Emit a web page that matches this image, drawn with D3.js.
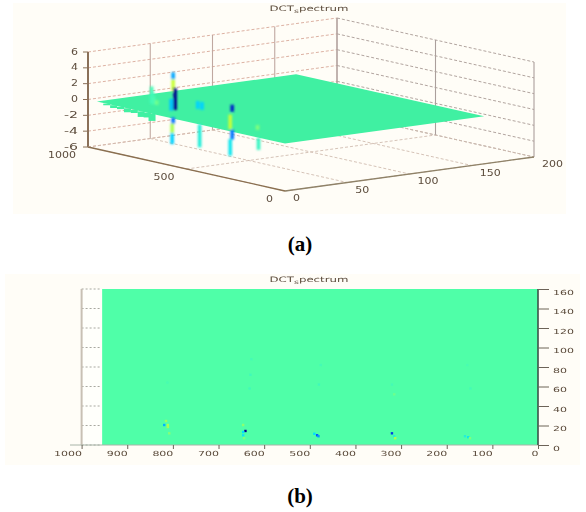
<!DOCTYPE html>
<html>
<head>
<meta charset="utf-8">
<script src="https://cdn.jsdelivr.net/npm/d3@7"></script>
<style>
html,body{margin:0;padding:0;background:#fff;}
svg{display:block;}
text{font-family:"DejaVu Sans",sans-serif;fill:#5c4c3c;}
</style>
</head>
<body>
<svg id="c" width="586" height="512"></svg>
<script>
// ---------- data ----------
const titleLead = "DCT", titleSub = "s", titleTail = "pectrum";
const captions = ["(a)", "(b)"];
const xTicks3d = [1000, 500, 0];
const yTicks3d = [0, 50, 100, 150, 200];
const zTicks = [-6, -4, -2, 0, 2, 4, 6];
const xTicksFlat = [1000, 900, 800, 700, 600, 500, 400, 300, 200, 100, 0];
const yTicksFlat = [0, 20, 40, 60, 80, 100, 120, 140, 160];
const surfaceXMax = 955, surfaceYMax = 160;

// spike strands of the surface: location, height range, colour value
const strandX   = [816, 812, 805, 790, 650, 650, 640, 660, 650, 655, 655, 500, 478, 490, 325, 335, 325, 335, 185, 190];
const strandY   = [ 22,  22,  22,  22,  13,  13,  13,  13,  13,  13,  13,   9,   9,   9,   9,   9,   9,   9,   8,   8];
const strandTop = [2.2, 1.5, 1.0, 0.6, 5.1, 4.2, 3.2, 1.7, -0.6, -1.4, -2.6, 2.4, 2.4, -0.5, 2.9, 1.6, -0.25, -1.5, -0.5, 1.1];
const strandBot = [0.0, 0.0, 0.0, 0.0, 4.2, 2.7, 0.4, 0.2, -1.4, -2.6, -4.0, 1.4, 1.4, -3.4, 2.0, -0.25, -1.5, -3.6, -2.0, 0.5];
const strandVal = [-0.3, -0.4, -0.2, 0.5, -2.8, 2.0, -6.0, -2.4, -3.5, 1.5, -2.2, -2.2, -2.2, -1.1, -5.0, 2.0, -3.5, -1.6, -0.6, 0.8];

// jagged low edge of the surface near the far x end
const toothX = [905, 870, 835, 800, 765, 730, 700, 675];
const toothZ = [-0.2, -0.35, -0.3, -0.5, -0.4, -0.7, -0.6, -0.9];

// top view cells
const cellX = [815, 811, 819, 811, 808, 641, 646, 646, 644, 646, 484, 481, 490, 320, 315, 313, 153, 149, 160,
               630, 628, 632, 480, 476, 315, 320, 148, 812, 155];
const cellY = [24.6, 20.5, 20.5, 18.5, 12, 14.4, 13.3, 10, 7, 20.5, 10, 9, 11.5, 12, 9, 7, 8, 7, 9,
                72,  88,  58,  62,  82,  52,  62,  58,  64, 82];
const cellV = [1.2, 1.6, -2.6, 1.4, 0.9, -6.0, -2.0, -1.6, 0.8, 1.0, -4.0, -3.0, -2.0, -4.5, -1.0, 1.6, -1.6, 0.8, -1.0,
               -0.4, -0.3, -0.4, -0.4, -0.3, 0.5, -0.3, -0.3, -0.2, -0.2];

// ---------- scales ----------
const heat = d3.scaleLinear()
  .domain([-6, -4, -2, 0, 2, 4, 6])
  .range(["#00008f", "#0050ff", "#00e0ff", "#50ffa8", "#c8ff37", "#ff9000", "#800000"]);

const originPx = 285, originPy = 191;
const xPx = d3.scaleLinear([0, 1000], [0, -197]);
const xPy = d3.scaleLinear([0, 1000], [0, -44]);
const yPx = d3.scaleLinear([0, 200], [0, 249]);
const yPy = d3.scaleLinear([0, 200], [0, -34]);
const zPy = d3.scaleLinear([-6, 6], [0, -95]);
const project = (x, y, z) => [originPx + xPx(x) + yPx(y), originPy + xPy(x) + yPy(y) + zPy(z)];
const line3 = d3.line();

const xFlat = d3.scaleLinear([0, 1000], [538, 81.6]);
const yFlat = d3.scaleLinear([0, 160], [445, 289]);

// ---------- page ----------
const svg = d3.select("#c");
const defs = svg.append("defs");
const blur = (id, s) => defs.append("filter").attr("id", id).attr("x", "-5%").attr("y", "-5%").attr("width", "110%").attr("height", "110%")
  .append("feGaussianBlur").attr("stdDeviation", s);
blur("soft", 0.7); blur("softText", 0.45); blur("softMark", 0.9);

svg.append("rect").attr("x", 13).attr("y", 3).attr("width", 553).attr("height", 211).attr("fill", "#fffdf7");
svg.append("rect").attr("x", 5).attr("y", 274).attr("width", 575).attr("height", 191).attr("fill", "#fffdf7");

const stretched = (sel, perChar) => sel
  .attr("textLength", d => String(d).length * perChar)
  .attr("lengthAdjust", "spacingAndGlyphs");

function title(cx, y) {
  const t = svg.append("text").attr("x", cx).attr("y", y).attr("text-anchor", "middle")
    .attr("font-size", 7.5).attr("textLength", 79).attr("lengthAdjust", "spacingAndGlyphs")
    .attr("filter", "url(#softText)");
  t.append("tspan").text(titleLead);
  t.append("tspan").attr("dy", 2).attr("font-size", 6).text(titleSub);
  t.append("tspan").attr("dy", -2).text(titleTail);
}
title(309, 11);
title(309, 282);

// ---------- panel a ----------
const a = svg.append("g").attr("filter", "url(#soft)");
const seg = (g, p, q, stroke, w, dash) => g.append("path").attr("d", line3([p, q]))
  .attr("fill", "none").attr("stroke", stroke).attr("stroke-width", w).attr("stroke-dasharray", dash || null);

// walls and floor
zTicks.forEach(z => {
  seg(a, project(1000, 0, z), project(1000, 200, z), "#d8a898", 0.9, "3 2");
  seg(a, project(1000, 200, z), project(0, 200, z), "#a89a94", 0.9, "3 2");
});
yTicks3d.forEach(y => {
  seg(a, project(1000, y, -6), project(1000, y, 6), y === 0 ? "#8a7058" : "#c0a8a0", y === 0 ? 2 : 1.1);
  seg(a, project(1000, y, -6), project(0, y, -6), "#d0bcb0", 0.9, "3 2");
});
xTicks3d.forEach(x => {
  seg(a, project(x, 200, -6), project(x, 200, 6), "#ab9f9c", 1.1);
  seg(a, project(x, 0, -6), project(x, 200, -6), "#d0bcb0", 0.9, "3 2");
});

// axes
seg(a, project(1000, 0, -6), project(0, 0, -6), "#8a6f50", 1.3);
seg(a, project(0, 0, -6), project(0, 200, -6), "#8f8268", 1.3);
zTicks.forEach(z => {
  const p = project(1000, 0, z);
  seg(a, [p[0] - 5, p[1]], p, "#8a7058", 1);
});

// surface
a.append("path")
  .attr("d", line3([project(surfaceXMax, 0, 0), project(0, 0, 0), project(0, surfaceYMax, 0), project(surfaceXMax, surfaceYMax, 0)]) + "Z")
  .attr("fill", "#3ff0a2");
toothX.forEach((x, i) => seg(a, project(x, 0, 0), project(x, 0, toothZ[i]), "#3ff0a2", 7));
const am = svg.append("g").attr("filter", "url(#softMark)");
strandX.forEach((x, i) => seg(am, project(x, strandY[i], strandTop[i]), project(x, strandY[i], strandBot[i]), heat(strandVal[i]), 3.6));

// labels of panel a
const lab = svg.append("g").attr("font-size", 8).attr("filter", "url(#softText)");
lab.selectAll(".z").data(zTicks).join("text")
  .attr("x", d => project(1000, 0, d)[0] - 10).attr("y", d => project(1000, 0, d)[1] + 2.5)
  .attr("text-anchor", "end").text(d => d).call(stretched, 7);
lab.selectAll(".x").data(xTicks3d).join("text")
  .attr("x", d => project(d, 0, -6)[0] - 12).attr("y", d => project(d, 0, -6)[1] + 11)
  .attr("text-anchor", "end").text(d => d).call(stretched, 7);
lab.selectAll(".y").data(yTicks3d).join("text")
  .attr("x", d => project(0, d, -6)[0] + 8).attr("y", d => project(0, d, -6)[1] + 10)
  .attr("text-anchor", "start").text(d => d).call(stretched, 7);

// ---------- panel b ----------
const b = svg.append("g").attr("filter", "url(#soft)");
b.append("rect").attr("x", xFlat(1000)).attr("y", yFlat(160))
  .attr("width", xFlat(0) - xFlat(1000)).attr("height", yFlat(0) - yFlat(160)).attr("fill", "#fffffb");
b.append("rect").attr("x", xFlat(surfaceXMax)).attr("y", yFlat(160))
  .attr("width", xFlat(0) - xFlat(surfaceXMax)).attr("height", yFlat(0) - yFlat(160)).attr("fill", "#50ffa8");
b.selectAll(".cell").data(cellX).join("rect")
  .attr("x", d => xFlat(d) - 1.2).attr("y", (d, i) => yFlat(cellY[i]) - 1.2)
  .attr("width", 2.4).attr("height", 2.4).attr("fill", (d, i) => heat(cellV[i]));
yTicksFlat.forEach(t => seg(b, [xFlat(1000), yFlat(t)], [xFlat(surfaceXMax) - 1, yFlat(t)], "#a8a8a0", 1, "2 2"));
seg(b, [xFlat(1000), yFlat(160)], [xFlat(1000), yFlat(0)], "#c8c0b4", 2);
seg(b, [70, yFlat(0)], [xFlat(0), yFlat(0)], "#a8b4a8", 1);
seg(b, [xFlat(0), yFlat(160)], [xFlat(0), yFlat(0)], "#3c5048", 1.6);

const axisB = d3.axisBottom(xFlat).tickValues(xTicksFlat).tickFormat(d3.format("d")).tickSizeOuter(0).tickSize(4).tickPadding(2);
const axisR = d3.axisRight(yFlat).tickValues(yTicksFlat).tickFormat(d3.format("d")).tickSizeOuter(0).tickSize(11).tickPadding(4);
const gx = svg.append("g").attr("transform", `translate(0,${yFlat(0)})`).call(axisB).attr("filter", "url(#softText)");
const gy = svg.append("g").attr("transform", `translate(${xFlat(0)},0)`).call(axisR).attr("filter", "url(#softText)");
[gx, gy].forEach(g => {
  g.select(".domain").remove();
  g.selectAll("line").attr("stroke", "#6c6458");
  g.selectAll("text").attr("font-size", 7).attr("font-family", null).call(stretched, 7);
});
gx.selectAll("text").attr("text-anchor", "end");
gy.selectAll("text").attr("dy", "0.72em").attr("y", 0);

// ---------- captions ----------
svg.selectAll(".cap").data(captions).join("text")
  .attr("x", 300).attr("y", (d, i) => [251, 503][i])
  .attr("text-anchor", "middle")
  .style("font-family", '"Liberation Serif",serif').style("font-weight", "bold").style("font-size", "21px").style("fill", "#000")
  .text(d => d);
</script>
</body>
</html>
